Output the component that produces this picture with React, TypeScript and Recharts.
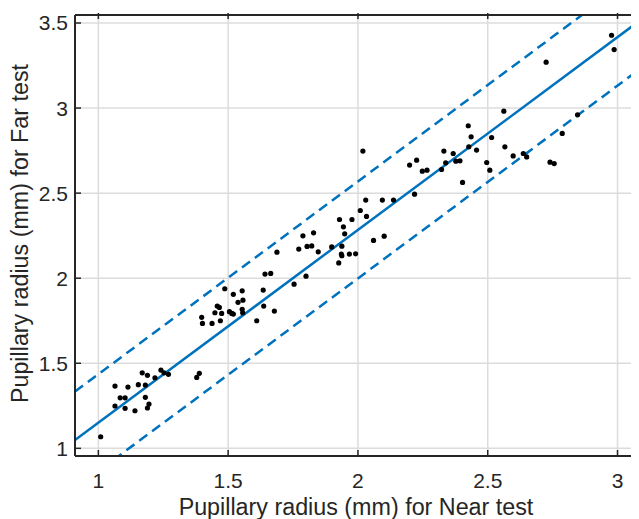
import React from 'react';
import { ScatterChart, Scatter, XAxis, YAxis, CartesianGrid, ReferenceLine } from 'recharts';

// Near test radius (x) and Far test radius (y), mm
const nearRadius = [
  1.009, 1.064, 1.064, 1.084, 1.103, 1.103, 1.114, 1.141, 1.154, 1.169, 1.181, 1.181, 1.189, 1.189, 1.195,
  1.218, 1.241, 1.253, 1.27, 1.379, 1.389,
  1.398, 1.401, 1.438, 1.449, 1.458, 1.466, 1.47, 1.475, 1.487, 1.505, 1.514, 1.52, 1.52, 1.538, 1.554,
  1.554, 1.556, 1.557, 1.61, 1.635, 1.637, 1.642, 1.664, 1.678, 1.688, 1.754, 1.8,
  1.772, 1.788, 1.804, 1.822, 1.829, 1.847, 1.899, 1.926, 1.929, 1.936, 1.938, 1.938, 1.944, 1.949, 1.967,
  1.977, 1.991, 2.009, 2.019, 2.03, 2.033, 2.06, 2.094, 2.101, 2.137,
  2.199, 2.218, 2.226, 2.248, 2.266, 2.322, 2.331, 2.338, 2.367, 2.377, 2.393, 2.403, 2.425, 2.427, 2.436,
  2.457, 2.496, 2.508, 2.515, 2.562, 2.566, 2.598, 2.637, 2.65, 2.725, 2.74, 2.756, 2.787, 2.846, 2.977, 2.987,
];
const farRadius = [
  1.068, 1.366, 1.249, 1.297, 1.297, 1.235, 1.36, 1.221, 1.374, 1.444, 1.372, 1.3, 1.429, 1.237, 1.26,
  1.415, 1.46, 1.444, 1.435, 1.417, 1.441,
  1.77, 1.734, 1.734, 1.797, 1.836, 1.828, 1.75, 1.793, 1.938, 1.803, 1.793, 1.789, 1.905, 1.858, 1.926,
  1.817, 1.797, 1.871, 1.75, 1.93, 1.836, 2.024, 2.028, 1.807, 2.153, 1.965, 2.012,
  2.171, 2.249, 2.187, 2.19, 2.267, 2.155, 2.184, 2.09, 2.345, 2.142, 2.132, 2.188, 2.302, 2.261, 2.142,
  2.345, 2.143, 2.398, 2.747, 2.459, 2.363, 2.222, 2.459, 2.247, 2.459,
  2.665, 2.494, 2.694, 2.629, 2.635, 2.639, 2.747, 2.678, 2.733, 2.688, 2.69, 2.563, 2.896, 2.772, 2.831,
  2.753, 2.68, 2.635, 2.827, 2.982, 2.772, 2.719, 2.733, 2.713, 3.27, 2.682, 2.674, 2.851, 2.96, 3.428, 3.344,
];

const xTicks = [1, 1.5, 2, 2.5, 3];
const yTicks = [1, 1.5, 2, 2.5, 3, 3.5];
const xDomain = [0.91, 3.075];
const yDomain = [0.955, 3.547];

// regression fit and band
const slope = 1.133;
const intercept = 0.018;
const band = 0.285;

const points = nearRadius.map((x, i) => ({ x, y: farRadius[i] }));
const fitAt = (x: number, off: number) => ({ x, y: intercept + slope * x + off });

const FONT = '"Liberation Sans", Arial, Helvetica, sans-serif';
const INK = '#262626';
const BLUE = '#0072BD';
const TICK_LEN = 6;
const TICK_FS = 21;
const TITLE_FS = 23.3;

const BottomTick = ({ x, y, payload }: any) => (
  <g>
    <line x1={x} x2={x} y1={y - 17} y2={y - 17 - TICK_LEN} stroke={INK} strokeWidth={1.5} />
    <text x={x} y={y} dy="0.71em" textAnchor="middle" fill={INK} fontSize={TICK_FS} fontFamily={FONT}>
      {payload.value}
    </text>
  </g>
);

const LeftTick = ({ x, y, payload }: any) => (
  <g>
    <line x1={x + 7} x2={x + 7 + TICK_LEN} y1={y} y2={y} stroke={INK} strokeWidth={1.5} />
    <text x={x} y={y} dy="0.355em" textAnchor="end" fill={INK} fontSize={TICK_FS} fontFamily={FONT}>
      {payload.value}
    </text>
  </g>
);

const TopTick = ({ x, y }: any) => (
  <line x1={x} x2={x} y1={y} y2={y + TICK_LEN} stroke={INK} strokeWidth={1.5} />
);

const RightTick = ({ x, y }: any) => (
  <line x1={x} x2={x - TICK_LEN} y1={y} y2={y} stroke={INK} strokeWidth={1.5} />
);

const Dot = (props: any) => <circle cx={props.cx} cy={props.cy} r={2.6} fill="#000" />;
const NoDot = () => null;

export default function App() {
  return (
    <ScatterChart width={631} height={511} margin={{ top: 6, right: 1, bottom: 0, left: 0 }}>
      <CartesianGrid stroke="#dcdcdc" strokeWidth={1.5} />
      <XAxis
        type="number"
        dataKey="x"
        domain={xDomain}
        ticks={xTicks}
        allowDataOverflow
        height={63}
        tickSize={0}
        tickMargin={17}
        tickLine={false}
        tick={<BottomTick />}
        axisLine={{ stroke: INK, strokeWidth: 2 }}
        label={{
          content: ({ viewBox }: any) => (
            <text
              x={viewBox.x + viewBox.width / 2}
              y={viewBox.y + 59}
              textAnchor="middle"
              fill={INK}
              fontSize={TITLE_FS}
              fontFamily={FONT}
            >
              Pupillary radius (mm) for Near test
            </text>
          ),
        }}
      />
      <XAxis
        xAxisId="top"
        orientation="top"
        type="number"
        dataKey="x"
        domain={xDomain}
        ticks={xTicks}
        allowDataOverflow
        height={1}
        tickSize={0}
        tickLine={false}
        tick={<TopTick />}
        axisLine={{ stroke: INK, strokeWidth: 2 }}
      />
      <YAxis
        type="number"
        dataKey="y"
        domain={yDomain}
        ticks={yTicks}
        allowDataOverflow
        width={67}
        tickSize={0}
        tickMargin={7}
        tickLine={false}
        tick={<LeftTick />}
        axisLine={{ stroke: INK, strokeWidth: 2 }}
        label={{
          content: ({ viewBox }: any) => {
            const cx = 20;
            const cy = viewBox.y + viewBox.height / 2 - 2;
            return (
              <text
                x={cx}
                y={cy}
                transform={`rotate(-90, ${cx}, ${cy})`}
                textAnchor="middle"
                fill={INK}
                fontSize={TITLE_FS}
                fontFamily={FONT}
              >
                Pupillary radius (mm) for Far test
              </text>
            );
          },
        }}
      />
      <YAxis
        yAxisId="right"
        orientation="right"
        type="number"
        dataKey="y"
        domain={yDomain}
        ticks={yTicks}
        allowDataOverflow
        width={1}
        tickSize={0}
        tickLine={false}
        tick={<RightTick />}
        axisLine={{ stroke: INK, strokeWidth: 2 }}
      />
      <ReferenceLine
        segment={[fitAt(xDomain[0], band), fitAt(xDomain[1], band)]}
        stroke={BLUE}
        strokeWidth={2.5}
        strokeDasharray="10 6"
        ifOverflow="hidden"
      />
      <ReferenceLine
        segment={[fitAt(xDomain[0], -band), fitAt(xDomain[1], -band)]}
        stroke={BLUE}
        strokeWidth={2.5}
        strokeDasharray="10 6"
        ifOverflow="hidden"
      />
      <ReferenceLine
        segment={[fitAt(xDomain[0], 0), fitAt(xDomain[1], 0)]}
        stroke={BLUE}
        strokeWidth={2.5}
        ifOverflow="hidden"
      />
      <Scatter data={points} shape={<Dot />} isAnimationActive={false} />
      <Scatter xAxisId="top" yAxisId="right" data={points} shape={<NoDot />} isAnimationActive={false} />
    </ScatterChart>
  );
}
